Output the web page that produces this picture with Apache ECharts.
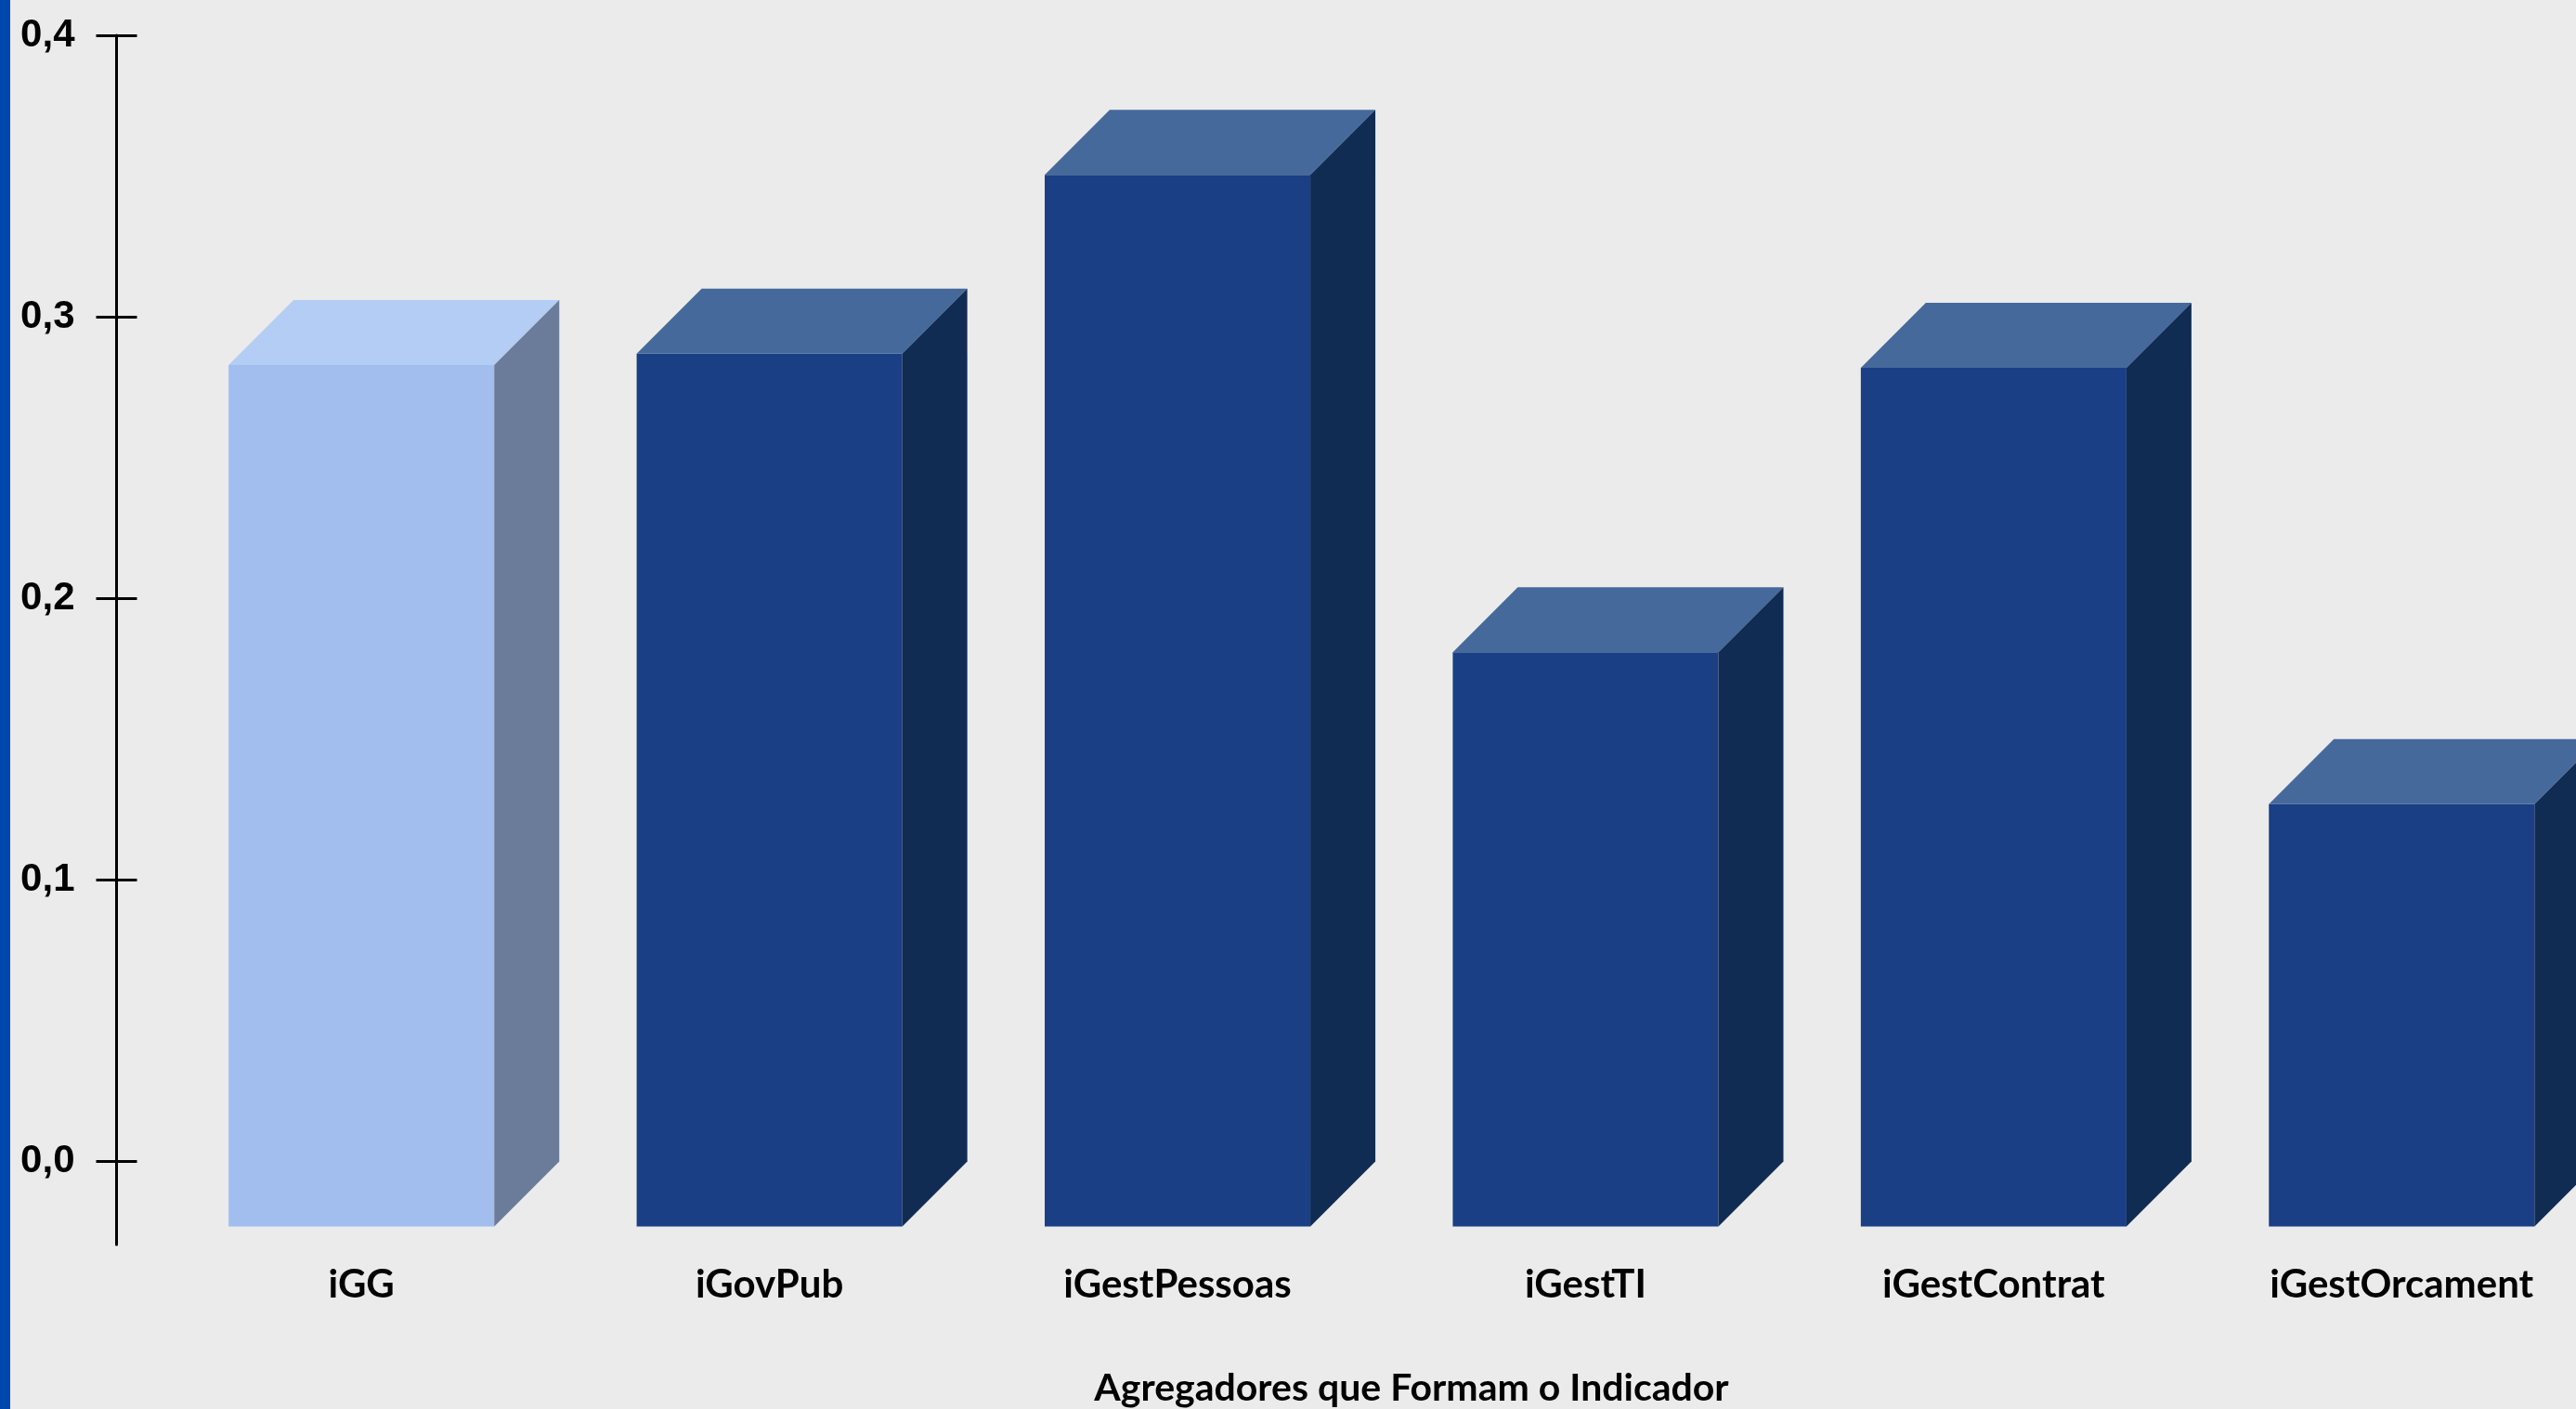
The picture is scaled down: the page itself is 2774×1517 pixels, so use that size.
<!DOCTYPE html>
<html>
<head>
<meta charset="utf-8">
<script src="https://cdn.jsdelivr.net/npm/echarts@6/dist/echarts.min.js"></script>
<style>
  html, body { margin: 0; padding: 0; background: #EBEBEB; overflow: hidden; width: 2774px; height: 1517px; }
  #chart { position: absolute; left: 0; top: 0; width: 2806px; height: 1517px; }
  #strip { position: absolute; left: 0; top: 0; width: 11px; height: 1517px; background: #0047AD; z-index: 5; }
</style>
</head>
<body>
<div id="chart"></div>
<div id="strip"></div>
<script>
// ---- data ----
const categories = ['iGG', 'iGovPub', 'iGestPessoas', 'iGestTI', 'iGestContrat', 'iGestOrcament'];
const values = [0.306, 0.310, 0.3735, 0.204, 0.305, 0.150];
const yTicks = [0, 0.1, 0.2, 0.3, 0.4];
const axisTitle = 'Agregadores que Formam o Indicador';

// ---- styles ----
const BAR_RATIO = 0.651;     // front face width / band
const DEPTH_RATIO = 0.1593;  // 3D depth / band
const lightFaces = { front: '#A1BEEF', top: '#B3CDF4', side: '#6A7C99' };
const darkFaces = { front: '#1A3F85', top: '#46699B', side: '#112C53' };

const chart = echarts.init(document.getElementById('chart'), null, { renderer: 'canvas' });

function renderItem(params, api) {
  const idx = api.value(0);
  const v = api.value(1);
  const top = api.coord([idx, v]);
  const base = api.coord([idx, 0]);
  const band = api.size([1, 0])[0];
  const w = band * BAR_RATIO;
  const d = band * DEPTH_RATIO;
  const xl = top[0] - w / 2, xr = top[0] + w / 2;
  const yt = top[1] + d, yb = base[1] + d;
  const c = idx === 0 ? lightFaces : darkFaces;
  return {
    type: 'group',
    children: [
      { type: 'polygon', shape: { points: [[xl, yt], [xr, yt], [xr, yb], [xl, yb]] }, style: { fill: c.front } },
      { type: 'polygon', shape: { points: [[xl, yt], [xl + d, yt - d], [xr + d, yt - d], [xr, yt]] }, style: { fill: c.top } },
      { type: 'polygon', shape: { points: [[xr, yt], [xr + d, yt - d], [xr + d, yb - d], [xr, yb]] }, style: { fill: c.side } }
    ]
  };
}

const yMin = -0.0295, yMax = 0.4;
const fmt = v => v.toFixed(1).replace('.', ',');

chart.setOption({
  backgroundColor: '#EBEBEB',
  animation: false,
  grid: { left: 169.5, right: 0, top: 38, bottom: 177, containLabel: false, outerBoundsMode: 'none' },
  xAxis: {
    type: 'category',
    data: categories,
    axisLine: { show: false, onZero: false },
    axisTick: { show: false },
    splitLine: { show: false },
    axisLabel: {
      interval: 0,
      margin: 22,
      color: '#000',
      fontFamily: 'Lato',
      fontWeight: 'bold',
      fontSize: 42
    }
  },
  yAxis: [
    {
      type: 'value', min: yMin, max: yMax, offset: 44,
      axisLine: { show: true, lineStyle: { color: '#000', width: 3 } },
      axisTick: { show: true, inside: false, length: 22, customValues: yTicks, lineStyle: { color: '#000', width: 3 } },
      axisLabel: { show: true, customValues: yTicks, formatter: fmt, margin: 45, color: '#000', fontFamily: 'Liberation Sans', fontWeight: 'bold', fontSize: 42 },
      splitLine: { show: false }
    },
    {
      type: 'value', min: yMin, max: yMax, offset: 44, position: 'left',
      axisLine: { show: false },
      axisTick: { show: true, inside: true, length: 22, customValues: yTicks, lineStyle: { color: '#000', width: 3 } },
      axisLabel: { show: false },
      splitLine: { show: false }
    }
  ],
  graphic: [{
    type: 'text',
    x: 1520, y: 1495,
    style: { text: axisTitle, align: 'center', verticalAlign: 'middle', fill: '#000', font: 'bold 41px Lato' }
  }],
  series: [{
    type: 'custom',
    renderItem: renderItem,
    clip: false,
    data: values.map((v, i) => [i, v])
  }]
});
</script>
</body>
</html>
